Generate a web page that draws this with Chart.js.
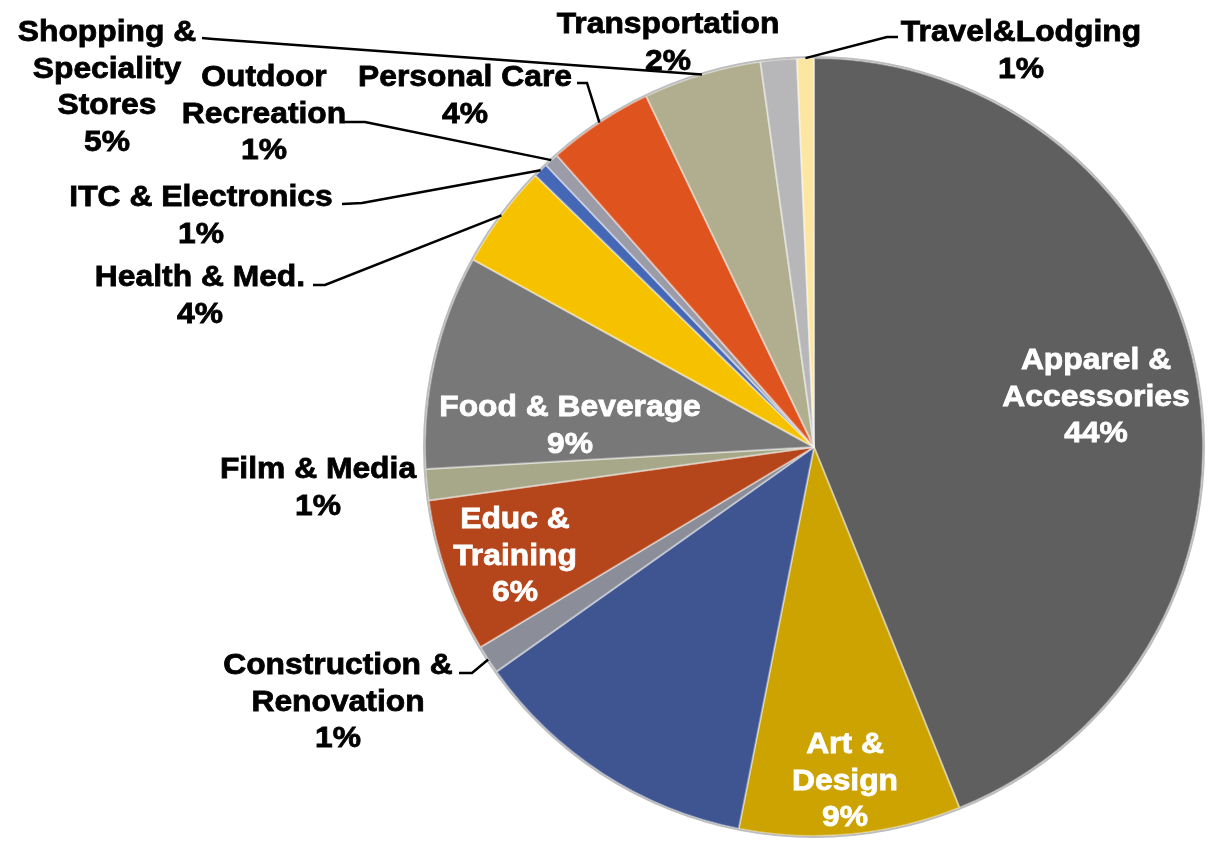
<!DOCTYPE html>
<html>
<head>
<meta charset="utf-8">
<script src="https://cdn.jsdelivr.net/npm/chart.js@4.4.1/dist/chart.umd.min.js"></script>
<style>
  html, body { margin: 0; padding: 0; background: #fff; }
</style>
</head>
<body>
<canvas id="pie" width="1212" height="851"></canvas>
<script>
// slices, clockwise from 12 o'clock (the blue slice carries no label in the picture)
const categories = ['Apparel & Accessories', 'Art & Design', '', 'Construction & Renovation',
  'Educ & Training', 'Film & Media', 'Food & Beverage', 'Health & Med.', 'ITC & Electronics',
  'Outdoor Recreation', 'Personal Care', 'Shopping & Speciality Stores', 'Transportation', 'Travel&Lodging'];
const shares = [43.9, 9.2, 12.1, 1.2, 6.4, 1.3, 8.9, 4.3, 0.6, 0.6, 4.4, 4.9, 1.5, 0.7];

// how each label is broken into lines
const labelLines = [
  ['Apparel &', 'Accessories'], ['Art &', 'Design'], [], ['Construction &', 'Renovation'],
  ['Educ &', 'Training'], ['Film & Media'], ['Food & Beverage'], ['Health & Med.'],
  ['ITC & Electronics'], ['Outdoor', 'Recreation'], ['Personal Care'],
  ['Shopping &', 'Speciality', 'Stores'], ['Transportation'], ['Travel&Lodging']
];

const sliceColors = ['#5f5f5f', '#cca300', '#3f5591', '#8b8e99', '#b5451b', '#a7a88a', '#787878',
  '#f6c200', '#4467b6', '#9b9ca8', '#df531f', '#b0ae8e', '#b7b7b9', '#fde6a2'];

// label placement: centre x, middle of first line, colour, leader start + elbow
const labelPos = [
  { x: 1096, y: 358, c: '#fff' },
  { x: 845, y: 742, c: '#fff' },
  null,
  { x: 338, y: 663, c: '#000', lead: [[459, 673], [472, 673]] },
  { x: 515, y: 517, c: '#fff' },
  { x: 318, y: 467, c: '#000' },
  { x: 570, y: 405, c: '#fff' },
  { x: 200, y: 275, c: '#000', lead: [[313, 285], [325, 285]] },
  { x: 201, y: 195, c: '#000', lead: [[342, 204], [362, 203]] },
  { x: 264, y: 75, c: '#000', lead: [[344, 122], [365, 122]] },
  { x: 465, y: 75, c: '#000', lead: [[577, 83], [587, 83]] },
  { x: 107, y: 30, c: '#000', lead: [[202, 38], [213, 39]] },
  { x: 668, y: 22, c: '#000' },
  { x: 1021, y: 30, c: '#000', lead: [[898, 37], [887, 37]] }
];

const total = shares.reduce((a, b) => a + b, 0);

const labelPlugin = {
  id: 'pieLabels',
  afterDatasetsDraw(chart) {
    const ctx = chart.ctx;
    const arcs = chart.getDatasetMeta(0).data;
    // outer rim
    const a0 = arcs[0];
    ctx.save();
    ctx.beginPath();
    ctx.arc(a0.x, a0.y, a0.outerRadius + 1, 0, Math.PI * 2);
    ctx.strokeStyle = '#bdbdbd';
    ctx.lineWidth = 2;
    ctx.stroke();
    ctx.restore();

    arcs.forEach((arc, i) => {
      const pos = labelPos[i];
      if (!pos) return;
      const lines = labelLines[i].concat([Math.round(shares[i] / total * 100) + '%']);
      ctx.save();
      if (pos.lead) {
        const mid = (arc.startAngle + arc.endAngle) / 2;
        const ex = arc.x + arc.outerRadius * Math.cos(mid);
        const ey = arc.y + arc.outerRadius * Math.sin(mid);
        ctx.beginPath();
        ctx.moveTo(pos.lead[0][0], pos.lead[0][1]);
        ctx.lineTo(pos.lead[1][0], pos.lead[1][1]);
        ctx.lineTo(ex, ey);
        ctx.strokeStyle = '#000';
        ctx.lineWidth = 2.5;
        ctx.stroke();
      }
      ctx.font = 'bold 30px "Liberation Sans", Arial, sans-serif';
      ctx.textAlign = 'center';
      ctx.textBaseline = 'middle';
      ctx.fillStyle = pos.c;
      ctx.strokeStyle = pos.c;
      ctx.lineWidth = 0.8;
      lines.forEach((t, k) => {
        ctx.save();
        ctx.translate(pos.x, pos.y + 3 + k * 36.5);
        ctx.scale(1.06, 1);
        ctx.fillText(t, 0, 0);
        ctx.strokeText(t, 0, 0);
        ctx.restore();
      });
      ctx.restore();
    });
  }
};

const myChart = new Chart(document.getElementById('pie').getContext('2d'), {
  type: 'pie',
  data: {
    labels: categories,
    datasets: [{
      data: shares,
      backgroundColor: sliceColors,
      borderColor: 'rgba(255,255,255,0.4)',
      borderWidth: 2
    }]
  },
  options: {
    responsive: false,
    animation: false,
    layout: { padding: { left: 424, top: 57, right: 8, bottom: 14 } },
    plugins: {
      legend: { display: false },
      tooltip: { enabled: false }
    }
  },
  plugins: [labelPlugin]
});
</script>
</body>
</html>
